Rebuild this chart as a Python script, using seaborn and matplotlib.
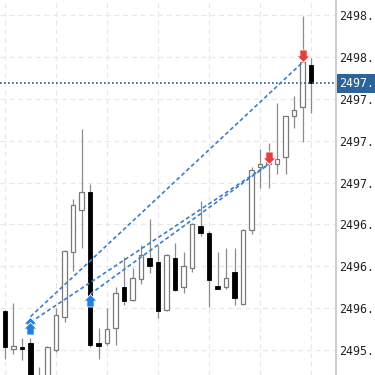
import numpy as np
import pandas as pd
import matplotlib
matplotlib.use("Agg")
import matplotlib.pyplot as plt
from matplotlib.path import Path
import seaborn as sns

# ---- data ----
opens  = [2496.18, 2495.91, 2495.92, 2495.95, 2495.60, 2495.65, 2495.90, 2496.14, 2496.60, 2496.90,
          2497.03, 2495.95, 2495.95, 2496.06, 2496.35, 2496.26, 2496.41, 2496.56, 2496.53, 2496.19,
          2496.56, 2496.35, 2496.49, 2496.79, 2496.74, 2496.36, 2496.35, 2496.46, 2496.23, 2496.76,
          2497.21, 2497.23, 2497.23, 2497.28, 2497.58, 2497.64, 2497.94]
highs  = [2496.19, 2496.24, 2495.99, 2495.99, 2495.78, 2495.93, 2496.20, 2496.62, 2496.98, 2497.48,
          2497.09, 2496.06, 2496.20, 2496.35, 2496.57, 2496.49, 2496.65, 2496.84, 2496.65, 2496.59,
          2496.67, 2496.60, 2496.81, 2496.97, 2496.75, 2496.60, 2496.63, 2496.63, 2496.77, 2497.21,
          2497.34, 2497.38, 2497.67, 2497.58, 2497.72, 2498.29, 2497.99]
lows   = [2495.84, 2495.87, 2495.83, 2495.58, 2495.58, 2495.61, 2495.89, 2496.10, 2496.47, 2496.63,
          2495.92, 2495.84, 2495.94, 2495.94, 2496.22, 2496.25, 2496.37, 2496.45, 2496.13, 2496.18,
          2496.32, 2496.31, 2496.46, 2496.72, 2496.21, 2496.34, 2496.34, 2496.22, 2496.22, 2496.73,
          2497.06, 2497.06, 2497.16, 2497.16, 2497.49, 2497.39, 2497.60]
closes = [2495.92, 2495.93, 2495.91, 2495.62, 2495.71, 2495.92, 2496.15, 2496.61, 2496.94, 2497.03,
          2495.94, 2495.93, 2496.05, 2496.31, 2496.25, 2496.42, 2496.58, 2496.50, 2496.18, 2496.58,
          2496.33, 2496.50, 2496.80, 2496.74, 2496.40, 2496.34, 2496.42, 2496.27, 2496.76, 2497.19,
          2497.23, 2497.25, 2497.27, 2497.58, 2497.62, 2497.96, 2497.81]

ytick_values = [2495.90, 2496.20, 2496.50, 2496.80, 2497.10, 2497.40, 2497.70, 2498.00, 2498.30]
ytick_labels = ['2495.', '2496.', '2496.', '2496.', '2497.', '2497.', '2497.', '2498.', '2498.']
price_label = '2497.'
xgrid_values = [0, 6, 12, 18, 24, 30, 36]

trade_entry_idx   = [3, 3, 10]
trade_entry_price = [2496.14, 2496.10, 2496.30]
trade_exit_idx    = [35, 31, 31]
trade_exit_price  = [2497.96, 2497.23, 2497.23]

# ---- style ----
sns.set_style("white")
plt.rcParams['font.family'] = ['DejaVu Sans Mono', 'DejaVu Sans']

W, H = 375, 375
fig = plt.figure(figsize=(W / 100, H / 100), dpi=100)
ax = fig.add_axes([0, 0, 336 / W, 1])

idx = np.arange(len(opens))
o = np.array(opens); c = np.array(closes)
hi = np.array(highs); lo = np.array(lows)
up = c >= o

# grid
for yv in ytick_values:
    ax.axhline(yv, color='#e8e8e8', lw=0.9, ls=(0, (4, 3)), zorder=0)
for xv in xgrid_values:
    ax.axvline(xv, color='#e8e8e8', lw=0.9, ls=(0, (4, 3)), zorder=0)

# wicks
ax.vlines(idx, lo, hi, color='#8c8c8c', lw=0.9, zorder=2)
# bodies
body_h = np.maximum(np.abs(c - o), 0.006)
body_b = np.minimum(o, c)
ax.bar(idx[up], body_h[up], bottom=body_b[up], width=0.58,
       color='white', edgecolor='#7a7a7a', lw=0.9, zorder=3)
ax.bar(idx[~up], body_h[~up], bottom=body_b[~up], width=0.58,
       color='black', edgecolor='black', lw=0.6, zorder=3)

# current price line
last = closes[-1]
ax.axhline(last, color='#2b5a86', lw=1.2, ls=(0, (1, 1.4)), zorder=4)

# trade lines via seaborn
rows = []
for t, (ei, ep, xi, xp) in enumerate(zip(trade_entry_idx, trade_entry_price,
                                          trade_exit_idx, trade_exit_price)):
    rows.append(dict(trade=t, idx=ei, price=ep))
    rows.append(dict(trade=t, idx=xi, price=xp))
trades = pd.DataFrame(rows)
sns.lineplot(data=trades, x='idx', y='price', units='trade', estimator=None,
             color='#3c80c2', lw=1.2, linestyle=(0, (2.4, 1.6)), sort=False,
             legend=False, ax=ax, zorder=5)

# arrow markers (tip at origin)
up_arrow = Path([(0, 0), (1, -1), (0.55, -1), (0.55, -1.9), (-0.55, -1.9), (-0.55, -1), (-1, -1), (0, 0)],
                [Path.MOVETO] + [Path.LINETO] * 6 + [Path.CLOSEPOLY])
down_arrow = Path([(0, 0), (1, 1), (0.55, 1), (0.55, 1.9), (-0.55, 1.9), (-0.55, 1), (-1, 1), (0, 0)],
                  [Path.MOVETO] + [Path.LINETO] * 6 + [Path.CLOSEPOLY])
ax.plot(trade_entry_idx, trade_entry_price, ls='none', marker=up_arrow, ms=18,
        mfc='#1f7fe6', mec='white', mew=0.6, zorder=6)
ax.plot(trade_exit_idx, trade_exit_price, ls='none', marker=down_arrow, ms=18,
        mfc='#e2403a', mec='white', mew=0.6, zorder=6)

# axes limits / ticks
ax.set_xlim(-0.588, 38.94)
ax.set_ylim(2495.722, 2498.407)
ax.set_xticks(xgrid_values)
ax.set_xticklabels([])
ax.set_xlabel('')
ax.set_ylabel('')
ax.yaxis.tick_right()
ax.set_yticks(ytick_values)
ax.set_yticklabels(ytick_labels, fontsize=8.4, color='#222222')
ax.tick_params(axis='y', length=0, pad=2.6)
ax.tick_params(axis='x', length=0)
for s in ['top', 'left', 'bottom']:
    ax.spines[s].set_visible(False)
ax.spines['right'].set_color('#cfcfcf')
ax.spines['right'].set_linewidth(1.5)

# current price label
ax.annotate(price_label, xy=(1.0, last), xycoords=ax.get_yaxis_transform(),
            xytext=(2.6, 0), textcoords='offset points', ha='left', va='center',
            fontsize=8.4, color='white', annotation_clip=False,
            bbox=dict(boxstyle='square,pad=0.25', fc='#2c6399', ec='none'), zorder=7)

fig.savefig('out.png', dpi=100)
